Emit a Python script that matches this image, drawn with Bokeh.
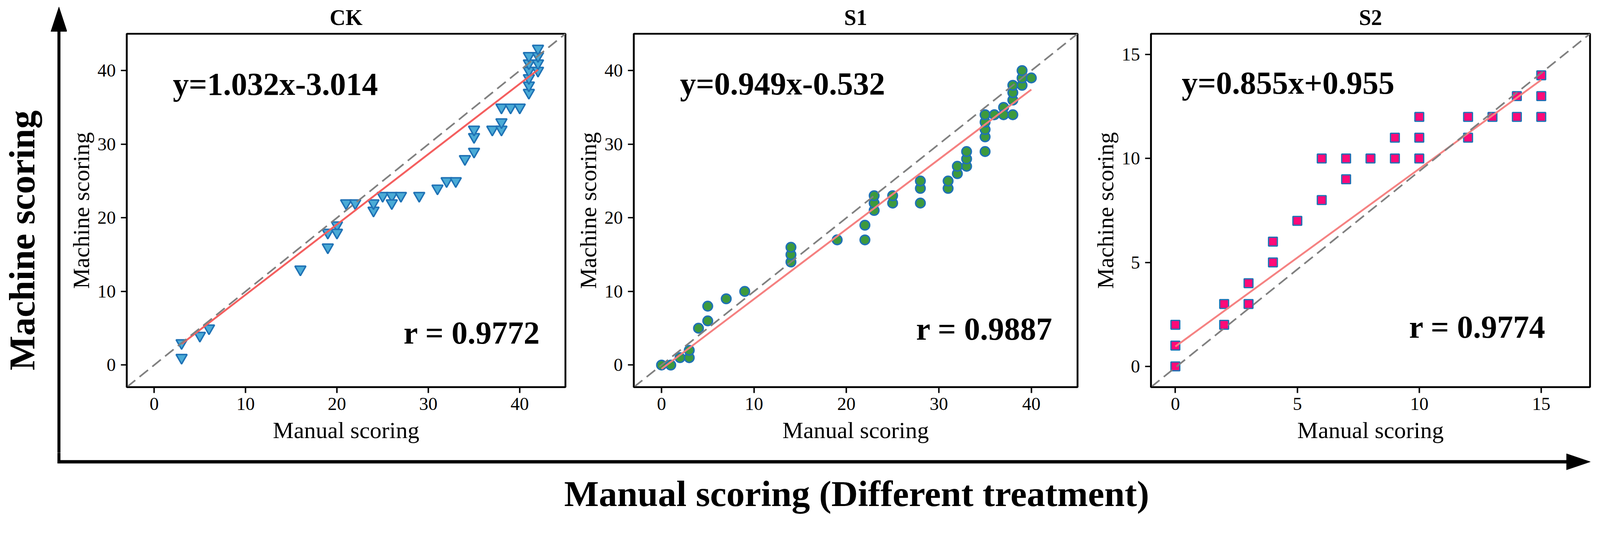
from bokeh.plotting import figure
from bokeh.layouts import row, column
from bokeh.models import Range1d, FixedTicker, Label
from bokeh.embed import file_html
from bokeh.resources import INLINE

FONT = "Liberation Serif"
S = 1 / 1.067          # css px per reference px (page renders slightly zoomed)


def px(v):
    return v * S


def fs(v):
    return "%dpx" % round(v * S)


# ---------------- data ----------------
panel_titles = ["CK", "S1", "S2"]

ck_manual = [3, 3, 5, 6, 16, 19, 19, 20, 20, 21, 22, 24, 24, 25, 26, 26, 27, 29, 31, 32,
             33, 34, 35, 35, 35, 37, 38, 38, 38, 39, 40, 41, 41, 41, 41, 41, 41, 42, 42, 42, 42]
ck_machine = [3, 1, 4, 5, 13, 16, 18, 19, 18, 22, 22, 21, 22, 23, 23, 22, 23, 23, 24, 25,
              25, 28, 29, 31, 32, 32, 32, 33, 35, 35, 35, 37, 38, 39, 40, 41, 42, 40, 41, 42, 43]

s1_manual = [0, 1, 2, 3, 3, 4, 5, 5, 7, 9, 14, 14, 14, 19, 22, 22, 23, 23, 23, 25, 25, 28, 28, 28,
             31, 31, 32, 32, 33, 33, 33, 35, 35, 35, 35, 35, 36, 37, 37, 38, 38, 38, 38, 39, 39, 39, 40]
s1_machine = [0, 0, 1, 1, 2, 5, 6, 8, 9, 10, 14, 15, 16, 17, 17, 19, 21, 22, 23, 22, 23, 22, 24, 25,
              24, 25, 26, 27, 27, 28, 29, 29, 31, 32, 33, 34, 34, 35, 34, 34, 36, 37, 38, 38, 39, 40, 39]

s2_manual = [0, 0, 0, 2, 2, 3, 3, 4, 4, 5, 6, 6, 7, 7, 8, 9, 9, 10, 10, 10, 12, 12, 13, 14, 14, 15, 15, 15]
s2_machine = [0, 1, 2, 2, 3, 3, 4, 5, 6, 7, 8, 10, 9, 10, 10, 10, 11, 10, 11, 12, 11, 12, 12, 12, 13, 12, 13, 14]

equations = ["y=1.032x-3.014", "y=0.949x-0.532", "y=0.855x+0.955"]
r_texts = ["r = 0.9772", "r = 0.9887", "r = 0.9774"]

fit_slopes = [0.955, 0.949, 0.855]
fit_intercepts = [0.0, -0.532, 0.955]

axis_limits = [(-3, 45, -3, 45), (-3, 45, -3, 45), (-1, 17, -1, 16)]
tick_values = [[0, 10, 20, 30, 40], [0, 10, 20, 30, 40], [0, 5, 10, 15]]

y_big_label = "Machine scoring"
x_big_label = "Manual scoring (Different treatment)"

# ---------------- styling ----------------
markers = ["inverted_triangle", "circle", "square"]
marker_sizes = [30, 26, 24]
marker_fill = ["#4aabd6", "#3d9a3d", "#ff0a78"]
marker_edge = "#1f72b5"
marker_lw = [4, 4, 3.5]
line_colors = ["#f45f5f", "#f58080", "#f58282"]

ROW_H = 1159
widths = [1298, 1324, 1281]
right_borders = [22, 35, 4]
eq_frac = [(0.105, 0.807), (0.104, 0.808), (0.07, 0.810)]
r_frac = [(0.9425, 0.103), (0.944, 0.114), (0.899, 0.120)]

datasets = [(ck_manual, ck_machine), (s1_manual, s1_machine), (s2_manual, s2_machine)]


def no_align(fig):
    if "frame_align" in fig.properties():
        fig.frame_align = False


def make_panel(i):
    xs, ys = datasets[i]
    x0, x1, y0, y1 = axis_limits[i]
    p = figure(width=widths[i], height=ROW_H, output_backend="svg", toolbar_location=None,
               x_range=Range1d(x0, x1), y_range=Range1d(y0, y1),
               min_border_left=153, min_border_right=right_borders[i],
               min_border_top=86, min_border_bottom=168,
               title=panel_titles[i])
    p.title.text_font = FONT
    p.title.text_font_size = fs(60)
    p.title.text_font_style = "bold"
    p.title.text_color = "black"
    p.title.align = "center"
    p.title.standoff = 22
    p.grid.visible = False
    p.outline_line_color = "black"
    p.outline_line_width = px(5)

    for ax in (p.xaxis[0], p.yaxis[0]):
        ax.ticker = FixedTicker(ticks=tick_values[i])
        ax.minor_tick_line_color = None
        ax.axis_line_width = px(4)
        ax.axis_line_color = "black"
        ax.major_tick_in = 0
        ax.major_tick_out = 15
        ax.major_tick_line_width = px(4)
        ax.major_tick_line_color = "black"
        ax.major_label_text_font = FONT
        ax.major_label_text_font_size = fs(50)
        ax.major_label_text_color = "black"
        ax.axis_label_text_font = FONT
        ax.axis_label_text_font_size = fs(64)
        ax.axis_label_text_font_style = "normal"
        ax.axis_label_text_color = "black"
    p.xaxis.axis_label = "Manual scoring"
    p.yaxis.axis_label = "Machine scoring"
    p.xaxis.major_label_standoff = 12
    p.yaxis.major_label_standoff = 13
    p.xaxis.axis_label_standoff = 16
    p.yaxis.axis_label_standoff = 6

    p.scatter(xs, ys, marker=markers[i], size=px(marker_sizes[i]),
              fill_color=marker_fill[i], line_color=marker_edge, line_width=px(marker_lw[i]))

    lx = [float(min(xs)), float(max(xs))]
    ly = [fit_slopes[i] * v + fit_intercepts[i] for v in lx]
    p.line(lx, ly, line_color=line_colors[i], line_width=px(5))

    p.line([x0, x1], [y0, y1], line_color="#808080", line_width=px(4.5), line_dash="28 14")

    fx, fy = eq_frac[i]
    p.add_layout(Label(x=x0 + fx * (x1 - x0), y=y0 + fy * (y1 - y0), text=equations[i],
                       text_font=FONT, text_font_size=fs(88), text_font_style="bold",
                       text_align="left", text_baseline="bottom", text_color="black"))
    rx, ry = r_frac[i]
    p.add_layout(Label(x=x0 + rx * (x1 - x0), y=y0 + ry * (y1 - y0), text=r_texts[i],
                       text_font=FONT, text_font_size=fs(88), text_font_style="bold",
                       text_align="right", text_baseline="bottom", text_color="black"))
    return p


panels = [make_panel(i) for i in range(3)]

# ---- big y label (as an axis label of a thin figure) ----
LAB_W = 120
lab = figure(width=LAB_W, height=ROW_H, output_backend="svg", toolbar_location=None,
             x_range=Range1d(0, 1), y_range=Range1d(0, 1), title=None,
             x_axis_location=None,
             min_border_left=0, min_border_right=0, min_border_top=71, min_border_bottom=0)
no_align(lab)
lab.grid.visible = False
lab.outline_line_color = None
yax = lab.yaxis[0]
yax.ticker = FixedTicker(ticks=[])
yax.major_tick_out = 0
yax.major_tick_in = 0
yax.minor_tick_out = 0
yax.major_label_standoff = 0
yax.axis_label_standoff = 0
yax.axis_line_alpha = 0
yax.axis_label = y_big_label
yax.axis_label_text_font = FONT
yax.axis_label_text_font_size = fs(100)
yax.axis_label_text_font_style = "bold"
yax.axis_label_text_color = "black"

# ---- vertical arrow ----
ARR_W = 51
arr = figure(width=ARR_W, height=ROW_H, output_backend="svg", toolbar_location=None,
             x_range=Range1d(0, ARR_W), y_range=Range1d(0, ROW_H), title=None,
             x_axis_location=None, y_axis_location=None,
             min_border_left=0, min_border_right=0, min_border_top=0, min_border_bottom=0)
no_align(arr)
arr.grid.visible = False
arr.outline_line_color = None
cx = 169 * S - 8 - LAB_W
hw = px(3.5)
tip_y = ROW_H - (27 * S - 8)
base_y = ROW_H - (94 * S - 8)
arr.quad(left=[cx - hw], right=[cx + hw], top=[base_y + 4], bottom=[0], color="black")
arr.patch([cx - px(22), cx + px(22), cx], [base_y, base_y, tip_y], color="black")

TOT_W = LAB_W + ARR_W + sum(widths)

# ---- horizontal arrow ----
BA_H = 48
ba = figure(width=TOT_W, height=BA_H, output_backend="svg", toolbar_location=None,
            x_range=Range1d(0, TOT_W), y_range=Range1d(0, BA_H), title=None,
            x_axis_location=None, y_axis_location=None,
            min_border_left=0, min_border_right=0, min_border_top=0, min_border_bottom=0)
no_align(ba)
ba.grid.visible = False
ba.outline_line_color = None
line_c = BA_H - 23.2
lh = px(4)
vx0 = 169 * S - 8 - hw
vx1 = 169 * S - 8 + hw
head_tip = 4352 * S - 8
head_base = 4287 * S - 8
ba.quad(left=[vx0], right=[vx1], top=[BA_H], bottom=[line_c - lh], color="black")
ba.quad(left=[vx0], right=[head_base + 3], top=[line_c + lh], bottom=[line_c - lh], color="black")
ba.patch([head_base, head_tip, head_base], [line_c + px(22), line_c, line_c - px(22)], color="black")

# ---- big x label (as an axis label of a thin figure) ----
BL_H = 111
bl = figure(width=TOT_W, height=BL_H, output_backend="svg", toolbar_location=None,
            x_range=Range1d(0, 1), y_range=Range1d(0, 1), title=None,
            y_axis_location=None,
            min_border_left=311, min_border_right=0, min_border_top=0, min_border_bottom=0)
no_align(bl)
bl.grid.visible = False
bl.outline_line_color = None
xax = bl.xaxis[0]
xax.ticker = FixedTicker(ticks=[])
xax.major_tick_out = 0
xax.major_tick_in = 0
xax.minor_tick_out = 0
xax.major_label_standoff = 0
xax.axis_label_standoff = 0
xax.axis_line_alpha = 0
xax.axis_label = x_big_label
xax.axis_label_text_font = FONT
xax.axis_label_text_font_size = fs(100)
xax.axis_label_text_font_style = "bold"
xax.axis_label_text_color = "black"

layout = column(row(lab, arr, *panels), ba, bl)
open("out.html", "w").write(file_html(layout, INLINE))
